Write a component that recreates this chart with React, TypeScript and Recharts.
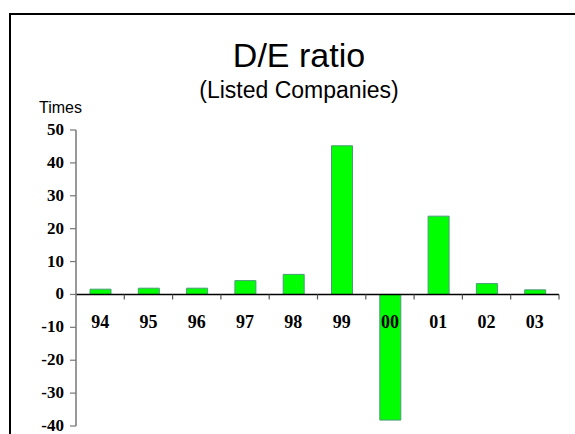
import React from "react";
import { BarChart, Bar, XAxis, YAxis, ReferenceLine } from "recharts";

const years = ["94", "95", "96", "97", "98", "99", "00", "01", "02", "03"];
const deRatio = [1.6, 1.9, 1.9, 4.2, 6.1, 45.2, -38.2, 23.8, 3.3, 1.4];
const yTicks = [-40, -30, -20, -10, 0, 10, 20, 30, 40, 50];

const data = years.map((y, i) => ({ year: y, value: deRatio[i] }));

const serif = "'Liberation Serif', 'Times New Roman', serif";
const sans = "'Liberation Sans', Arial, sans-serif";

const ZeroAxis = (props: any) => {
  const { x1, x2, y1 } = props;
  const n = years.length;
  const step = (x2 - x1) / n;
  return (
    <g>
      <line x1={x1} x2={x2} y1={y1} y2={y1} stroke="#000" strokeWidth={1.5} />
      {years.map((_, i) => (
        <line
          key={"t" + i}
          x1={x1 + (i + 1) * step}
          x2={x1 + (i + 1) * step}
          y1={y1}
          y2={y1 + 5}
          stroke="#555"
          strokeWidth={1.2}
        />
      ))}
      {years.map((lab, i) => (
        <text
          key={"l" + i}
          x={x1 + (i + 0.5) * step}
          y={y1 + 34}
          textAnchor="middle"
          fontFamily={serif}
          fontWeight="bold"
          fontSize={18}
          fill="#000"
        >
          {lab}
        </text>
      ))}
    </g>
  );
};

const YTick = (props: any) => {
  const { x, y, payload } = props;
  return (
    <text
      x={x}
      y={y}
      dy={5}
      textAnchor="end"
      fontFamily={serif}
      fontWeight="bold"
      fontSize={17}
      fill="#000"
    >
      {payload.value}
    </text>
  );
};

export default function App() {
  return (
    <div
      style={{
        position: "fixed",
        left: 0,
        top: 0,
        width: 575,
        height: 434,
        overflow: "hidden",
        background: "#fff",
      }}
    >
      <div
        style={{
          position: "absolute",
          left: 9,
          top: 13,
          width: 700,
          height: 600,
          borderLeft: "2px solid #000",
          borderTop: "2px solid #000",
        }}
      />
      <svg
        width={575}
        height={434}
        style={{ position: "absolute", left: 0, top: 0, pointerEvents: "none" }}
      >
        <text x={299} y={67} textAnchor="middle" fontFamily={sans} fontSize={34} fill="#000">
          D/E ratio
        </text>
        <text x={299} y={98} textAnchor="middle" fontFamily={sans} fontSize={23} fill="#000">
          (Listed Companies)
        </text>
        <text x={39} y={113} fontFamily={sans} fontSize={16} fill="#000">
          Times
        </text>
      </svg>
      <div style={{ position: "absolute", left: 0, top: 0 }}>
        <BarChart
          width={575}
          height={434}
          data={data}
          margin={{ top: 130, right: 16, bottom: 8, left: 0 }}
        >
          <XAxis dataKey="year" hide />
          <YAxis
            width={76}
            domain={[-40, 50]}
            ticks={yTicks}
            interval={0}
            allowDataOverflow
            axisLine={{ stroke: "#777", strokeWidth: 1.5 }}
            tickLine={{ stroke: "#777", strokeWidth: 1.2 }}
            tickSize={6}
            tickMargin={6}
            tick={<YTick />}
          />
          <Bar
            dataKey="value"
            fill="#00FF00"
            stroke="#4a9c78"
            strokeWidth={1}
            barSize={21}
            isAnimationActive={false}
          />
          <ReferenceLine y={0} shape={ZeroAxis} />
        </BarChart>
      </div>
    </div>
  );
}
